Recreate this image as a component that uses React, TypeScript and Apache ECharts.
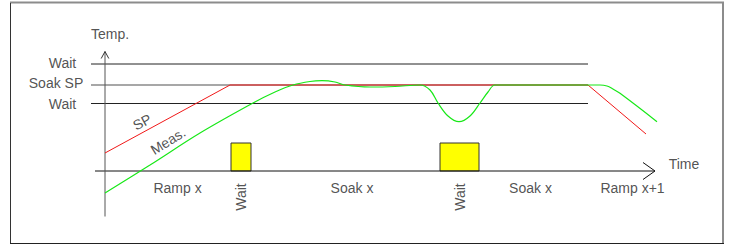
import React, { useEffect, useRef } from "react";
import * as echarts from "echarts";

// Schematic units: time (x) and temperature (y)
const spTime = [0, 125, 483, 541];
const spTemp = [18, 86, 86, 37];

const measTime = [0, 45, 95, 148, 170, 188, 205, 217, 230, 240, 265, 290, 315, 325, 333, 343, 354, 365, 375, 383, 390, 435, 495, 502, 508, 515, 552];
const measTemp = [-22, 6, 38, 68, 79, 86, 89.5, 90.3, 89, 86, 84, 84.5, 86, 81, 68, 55, 49.3, 55, 68, 79, 86, 86, 86, 85, 82, 77.7, 49.3];

const guideNames = ["Wait", "Soak SP", "Wait"];
const guideLevels = [107, 86, 67.5];
const guideLabelCenters = [-42.5, -49, -42.5];
const guideLabelTemps = [108.5, 88.5, 67.5];
const guideStart = -14;
const guideEnd = 483;

const waitStarts = [126, 335];
const waitEnds = [146, 374];
const waitMarkerHeight = 28;

const phaseNames = ["Ramp x", "Wait", "Soak x", "Wait", "Soak x", "Ramp x+1"];
const phaseCenters = [72.5, 136, 247, 355, 425.5, 527.5];
const phaseTemps = [-17, -26, -17, -26, -17, -17];
const phaseRotations = [0, 90, 0, 90, 0, 0];

const timeAxisStart = -10;
const timeAxisEnd = 550;
const tempAxisStart = -45.5;
const tempAxisEnd = 119.5;

const FONT = "'Liberation Sans', Arial, sans-serif";

export default function App() {
  const ref = useRef<HTMLDivElement>(null);
  useEffect(() => {
    if (!ref.current) return;
    const chart = echarts.init(ref.current, undefined, { renderer: "svg" });

    const lineSeries = (data: number[][], color: string, width: number, z: number, extra: any = {}) => ({
      type: "line",
      data,
      symbol: "none",
      silent: true,
      z,
      lineStyle: { color, width },
      ...extra,
    });

    const series: any[] = [];

    // guide lines
    guideLevels.forEach((lv, i) => {
      series.push(
        lineSeries(
          [
            [guideStart, lv],
            [guideEnd, lv],
          ],
          i === 1 ? "#8a8a8a" : "#222222",
          i === 1 ? 1.5 : 1,
          2
        )
      );
    });

    // wait markers
    series.push({
      type: "custom",
      z: 3,
      silent: true,
      data: waitStarts.map((s, i) => [s, waitEnds[i], waitMarkerHeight]),
      renderItem: (_p: any, api: any) => {
        const a = api.coord([api.value(0), api.value(2)]);
        const b = api.coord([api.value(1), 0]);
        return {
          type: "rect",
          shape: { x: a[0], y: a[1], width: b[0] - a[0], height: b[1] - a[1] },
          style: { fill: "#ffff00", stroke: "#333333", lineWidth: 1 },
        };
      },
    });

    // axes
    series.push(
      lineSeries(
        [
          [timeAxisStart, 0],
          [timeAxisEnd, 0],
        ],
        "#111111",
        1,
        5
      )
    );
    series.push(
      lineSeries(
        [
          [timeAxisEnd - 12, 8.5],
          [timeAxisEnd, 0],
          [timeAxisEnd - 12, -8.5],
        ],
        "#111111",
        1,
        5
      )
    );
    series.push(
      lineSeries(
        [
          [0, tempAxisStart],
          [0, tempAxisEnd],
        ],
        "#555555",
        1,
        5
      )
    );
    series.push(
      lineSeries(
        [
          [-3.8, tempAxisEnd - 7],
          [0, tempAxisEnd],
          [3.8, tempAxisEnd - 7],
        ],
        "#333333",
        1,
        5
      )
    );

    // SP and measured
    series.push(
      lineSeries(
        spTime.map((t, i) => [t, spTemp[i]]),
        "#f01818",
        1,
        6
      )
    );
    series.push(
      lineSeries(
        measTime.map((t, i) => [t, measTemp[i]]),
        "#18e818",
        1.2,
        7,
        { smooth: 0.35 }
      )
    );

    // text annotations
    const labelData: any[] = [];
    guideNames.forEach((n, i) =>
      labelData.push({ value: [guideLabelCenters[i], guideLabelTemps[i]], name: n, rot: 0 })
    );
    phaseNames.forEach((n, i) =>
      labelData.push({ value: [phaseCenters[i], phaseTemps[i]], name: n, rot: phaseRotations[i] })
    );
    labelData.push({ value: [5, 137], name: "Temp.", rot: 0 });
    labelData.push({ value: [579, 7], name: "Time", rot: 0 });
    labelData.push({ value: [37, 49], name: "SP", rot: 28.5 });
    labelData.push({ value: [63, 30], name: "Meas.", rot: 32 });

    series.push({
      type: "scatter",
      symbolSize: 0,
      silent: true,
      z: 10,
      data: labelData.map((d) => ({
        value: d.value,
        name: d.name,
        label: {
          show: true,
          position: "inside",
          formatter: d.name,
          rotate: d.rot,
          color: "#262626",
          fontSize: 14,
          fontFamily: FONT,
        },
      })),
    });

    chart.setOption({
      animation: false,
      backgroundColor: "#ffffff",
      grid: { left: 10, right: 8, top: 3, bottom: 1 },
      xAxis: { type: "value", min: -95, max: 618, show: false },
      yAxis: { type: "value", min: -72, max: 168, show: false },
      graphic: [
        { type: "line", shape: { x1: 10, y1: 2.5, x2: 724, y2: 2.5 }, style: { stroke: "#8c8c8c", lineWidth: 2 } },
        { type: "line", shape: { x1: 10.5, y1: 3, x2: 10.5, y2: 243.5 }, style: { stroke: "#333333", lineWidth: 1 } },
        { type: "line", shape: { x1: 723, y1: 2, x2: 723, y2: 243.5 }, style: { stroke: "#8c8c8c", lineWidth: 2 } },
        { type: "line", shape: { x1: 10, y1: 243.5, x2: 724, y2: 243.5 }, style: { stroke: "#222222", lineWidth: 1 } },
      ],
      series,
    });

    return () => chart.dispose();
  }, []);

  return (
    <div
      ref={ref}
      style={{ position: "fixed", left: 0, top: 0, width: 731, height: 244 }}
    />
  );
}
